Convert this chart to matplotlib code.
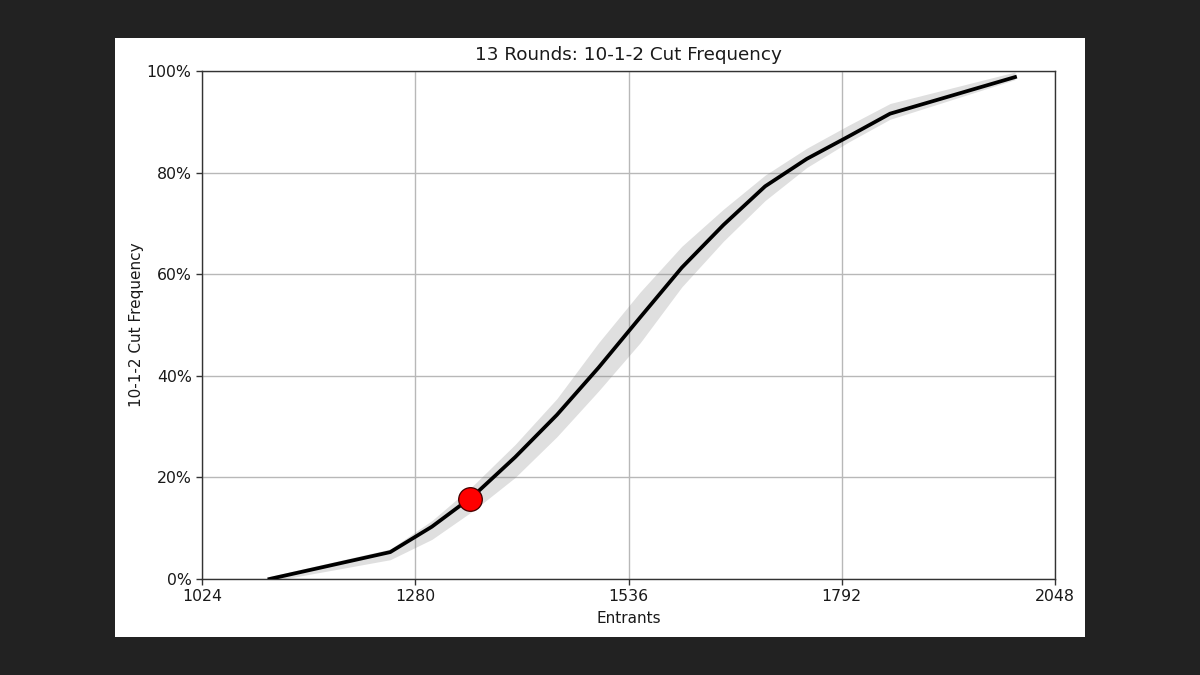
import matplotlib
matplotlib.use("Agg")
import matplotlib.pyplot as plt
from matplotlib.patches import Rectangle
from matplotlib.ticker import PercentFormatter

# ---- data ----
entrants = [1105, 1250, 1300, 1350, 1400, 1450, 1500, 1550, 1600, 1650, 1700, 1750, 1800, 1850, 2000]
cut_freq = [0.000, 0.053, 0.103, 0.164, 0.240, 0.323, 0.416, 0.515, 0.613, 0.697, 0.773, 0.827, 0.871, 0.916, 0.988]
band_low = [-0.005, 0.038, 0.078, 0.135, 0.200, 0.280, 0.370, 0.465, 0.575, 0.665, 0.745, 0.810, 0.860, 0.905, 0.983]
band_high = [0.005, 0.059, 0.115, 0.185, 0.265, 0.355, 0.465, 0.565, 0.655, 0.728, 0.795, 0.848, 0.893, 0.936, 0.998]
marker_x = [1346]
marker_y = [0.157]
x_ticks = [1024, 1280, 1536, 1792, 2048]
y_ticks = [0.0, 0.2, 0.4, 0.6, 0.8, 1.0]

title = "13 Rounds: 10-1-2 Cut Frequency"
xlabel = "Entrants"
ylabel = "10-1-2 Cut Frequency"

TEXT = "#1a1a1a"
W, H = 1200, 675
fig = plt.figure(figsize=(W / 100, H / 100), dpi=100, facecolor="#222222")

# white inner figure panel
fig.patches.append(Rectangle((115 / W, 1 - 637 / H), (1085 - 115) / W, (637 - 38) / H,
                             transform=fig.transFigure, facecolor="white",
                             edgecolor="none", zorder=-10))

ax = fig.add_axes([202 / W, 1 - 579 / H, (1055 - 202) / W, (579 - 71) / H])
ax.set_zorder(5)
ax.set_facecolor("white")

ax.fill_between(entrants, band_low, band_high, color="0.5", alpha=0.25, linewidth=0, zorder=2)
ax.plot(entrants, cut_freq, color="black", linewidth=2.7, zorder=3)
ax.plot(marker_x, marker_y, "o", color="red", markersize=17, markeredgecolor="#400000",
        markeredgewidth=0.9, zorder=4)

ax.set_xlim(1024, 2048)
ax.set_ylim(0, 1)
ax.set_xticks(x_ticks)
ax.set_yticks(y_ticks)
ax.yaxis.set_major_formatter(PercentFormatter(1.0, decimals=0))
ax.grid(True, color="#b8b8b8", linewidth=1.0, zorder=1)
ax.set_axisbelow(True)
for s in ax.spines.values():
    s.set_color("#333333")
    s.set_linewidth(1.0)
ax.tick_params(labelsize=11.3, colors="#333333", labelcolor=TEXT, length=4, width=1.0)
ax.set_title(title, fontsize=13.2, color=TEXT, pad=8)
ax.set_xlabel(xlabel, fontsize=11, color=TEXT, labelpad=5)
ax.set_ylabel(ylabel, fontsize=11, color=TEXT, labelpad=2)

fig.savefig("out.png", dpi=100, facecolor=fig.get_facecolor())
